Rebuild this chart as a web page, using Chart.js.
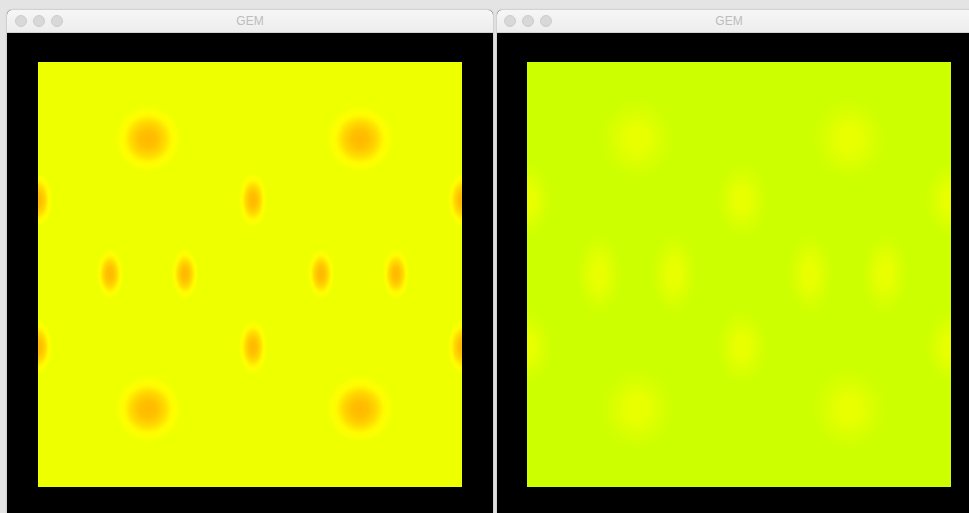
<!DOCTYPE html>
<html>
<head>
<meta charset="utf-8">
<script src="https://cdn.jsdelivr.net/npm/chart.js@4.4.1/dist/chart.umd.min.js"></script>
<style>
  body { margin: 0; width: 969px; height: 513px; background: #e4e4e4; overflow: hidden; position: relative; font-family: "Liberation Sans", "DejaVu Sans", sans-serif; }
  .win { position: absolute; top: 10px; height: 503px; background: #000; border-radius: 5px 5px 0 0; overflow: hidden; box-shadow: 0 0 2px rgba(0,0,0,0.3); }
  .bar { height: 22px; background: linear-gradient(#f6f6f6, #ededed); border-bottom: 1px solid #d2d2d2; position: relative; }
  .dot { position: absolute; top: 5px; width: 12px; height: 12px; border-radius: 50%; background: #d8d8d8; border: 0.5px solid #cccccc; box-sizing: border-box; }
  .ttl { position: absolute; left: 0; right: 0; top: 4px; text-align: center; font-size: 12px; color: #bcbcbc; }
  .plot { position: absolute; top: 52px; width: 424px; height: 425px; }
</style>
</head>
<body>

<div class="win" style="left:7px; width:486px;">
  <div class="bar">
    <div class="dot" style="left:8px"></div><div class="dot" style="left:26px"></div><div class="dot" style="left:44px"></div>
    <div class="ttl">GEM</div>
  </div>
  <div class="plot" style="left:31px;"><canvas id="gem-left"></canvas></div>
</div>

<div class="win" style="left:497px; width:480px;">
  <div class="bar">
    <div class="dot" style="left:7px"></div><div class="dot" style="left:25px"></div><div class="dot" style="left:43px"></div>
    <div class="ttl" style="right:16px">GEM</div>
  </div>
  <div class="plot" style="left:30px;"><canvas id="gem-right"></canvas></div>
</div>

<script>
// blob centres, same grid in both windows (x 0..424, y 0..425 from the top)
const blobX = [110, 322, 0, 215, 424, 72, 147, 283, 358, 0, 215, 424, 110, 322]
const blobY = [77, 77, 138, 138, 138, 212, 212, 212, 212, 285, 285, 285, 347, 347]

// half widths / half heights of each blob, in the same units
const leftSpreadX = [34, 34, 15, 15, 15, 14, 14, 14, 14, 15, 15, 15, 34, 34]
const leftSpreadY = [34, 34, 28, 28, 28, 26, 26, 26, 26, 28, 28, 28, 34, 34]

const rightSpreadX = [40, 40, 28, 28, 28, 25, 25, 25, 25, 28, 28, 28, 40, 40]
const rightSpreadY = [44, 44, 40, 40, 40, 44, 44, 44, 44, 40, 40, 40, 44, 44]

// fills the plot area and paints each point as a soft ellipse
const blobPlugin = {
  id: 'blobs',
  beforeDatasetsDraw(chart) {
    let a = chart.chartArea
    let ctx = chart.ctx
    ctx.save()
    ctx.fillStyle = chart.options.plugins.blobs.base
    ctx.fillRect(a.left, a.top, a.right - a.left, a.bottom - a.top)
    ctx.restore()
  },
  afterDatasetsDraw(chart) {
    let a = chart.chartArea
    let ctx = chart.ctx
    let xs = chart.scales.x
    let ys = chart.scales.y
    let stops = chart.options.plugins.blobs.stops
    ctx.save()
    ctx.beginPath()
    ctx.rect(a.left, a.top, a.right - a.left, a.bottom - a.top)
    ctx.clip()
    chart.data.datasets.forEach((ds, i) => {
      let meta = chart.getDatasetMeta(i)
      meta.data.forEach((p, j) => {
        let d = ds.data[j]
        let rx = Math.abs(xs.getPixelForValue(d.x + d.w) - p.x)
        let ry = Math.abs(ys.getPixelForValue(d.y + d.h) - p.y)
        ctx.save()
        ctx.translate(p.x, p.y)
        ctx.scale(1, ry / rx)
        let g = ctx.createRadialGradient(0, 0, 0, 0, 0, rx)
        stops.forEach(s => g.addColorStop(s[0], s[1]))
        ctx.fillStyle = g
        ctx.beginPath()
        ctx.arc(0, 0, rx, 0, Math.PI * 2)
        ctx.fill()
        ctx.restore()
      })
    })
    ctx.restore()
  }
}

function renderGem(divId, spreadX, spreadY, base, stops) {
  let pts = []
  blobX.forEach((x, i) => {
    pts.push({ x: x, y: blobY[i], w: spreadX[i], h: spreadY[i] })
  })

  new Chart(document.getElementById(divId), {
    type: 'scatter',
    data: {
      datasets: [{
        label: 'GEM',
        data: pts,
        pointRadius: 0,
        pointHoverRadius: 0
      }]
    },
    options: {
      responsive: true,
      maintainAspectRatio: false,
      animation: false,
      events: [],
      layout: { padding: 0 },
      scales: {
        x: { type: 'linear', min: 0, max: 424, display: false },
        y: { type: 'linear', min: 0, max: 425, reverse: true, display: false }
      },
      plugins: {
        legend: { display: false },
        tooltip: { enabled: false },
        blobs: { base: base, stops: stops }
      }
    },
    plugins: [blobPlugin]
  })
}

renderGem('gem-left', leftSpreadX, leftSpreadY, 'rgb(238, 255, 0)', [
  [0, 'rgba(255, 184, 0, 1)'],
  [0.25, 'rgba(255, 192, 0, 1)'],
  [0.5, 'rgba(255, 218, 0, 1)'],
  [0.7, 'rgba(255, 250, 0, 1)'],
  [0.82, 'rgba(255, 255, 0, 0.8)'],
  [1, 'rgba(250, 255, 0, 0)']
])

renderGem('gem-right', rightSpreadX, rightSpreadY, 'rgb(204, 255, 0)', [
  [0, 'rgba(234, 255, 0, 1)'],
  [0.3, 'rgba(232, 255, 0, 0.95)'],
  [0.65, 'rgba(222, 255, 0, 0.6)'],
  [1, 'rgba(212, 255, 0, 0)']
])
</script>
</body>
</html>
